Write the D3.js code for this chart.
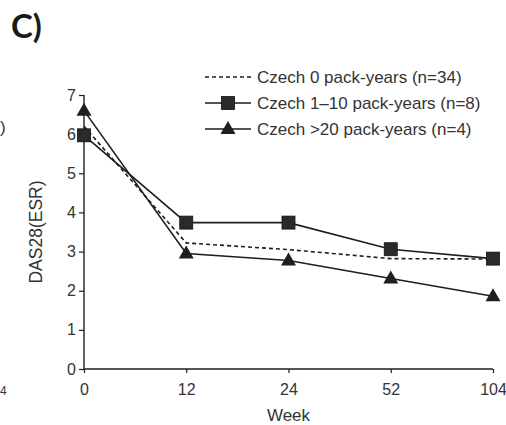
<!DOCTYPE html>
<html>
<head>
<meta charset="utf-8">
<script src="https://cdn.jsdelivr.net/npm/d3@7"></script>
<style>
  html, body { margin: 0; padding: 0; background: #fff; }
  svg { display: block; }
</style>
</head>
<body>
<div id="chart"></div>
<script>
// DAS28(ESR) over time by smoking exposure (Czech cohort)
const weeks = ['0', '12', '24', '52', '104'];
const yTicks = [0, 1, 2, 3, 4, 5, 6, 7];
const czech0 = [6.2, 3.22, 3.05, 2.82, 2.81];
const czech1to10 = [5.97, 3.74, 3.74, 3.06, 2.82];
const czechOver20 = [6.6, 2.95, 2.77, 2.31, 1.86];
const seriesNames = [
  'Czech 0 pack-years (n=34)',
  'Czech 1\u201310 pack-years (n=8)',
  'Czech >20 pack-years (n=4)',
];

const width = 506;
const height = 425;
const margin = { top: 95, right: 13, bottom: 56, left: 84 };
const innerW = width - margin.left - margin.right;
const innerH = height - margin.top - margin.bottom;
const ink = '#1e1e1e';
const textInk = '#333';
const font = '"Liberation Sans", Arial, sans-serif';

const series = [
  { name: seriesNames[0], values: czech0, dash: '4,3', marker: null },
  { name: seriesNames[1], values: czech1to10, dash: null, marker: 'square' },
  { name: seriesNames[2], values: czechOver20, dash: null, marker: 'triangle' },
];

const svg = d3.select('#chart').append('svg')
  .attr('width', width).attr('height', height)
  .style('font-family', font);

// panel label + leftover bits of the neighbouring panel
svg.append('text').attr('x', 11).attr('y', 38)
  .style('font-family', 'Lato, "Open Sans", sans-serif')
  .style('font-weight', 'bold').style('font-size', '33px').attr('fill', '#1a1a1a')
  .text('C)');
svg.append('text').attr('x', 0).attr('y', 133).style('font-size', '17px').attr('fill', textInk).text(')');
svg.append('text').attr('x', 0).attr('y', 395).style('font-size', '12px').attr('fill', textInk).text('4');

const x = d3.scalePoint().domain(weeks).range([0, innerW]);
const y = d3.scaleLinear().domain([0, 7]).range([innerH, 0]);

const g = svg.append('g').attr('transform', `translate(${margin.left},${margin.top})`);

const xAxis = g.append('g').attr('transform', `translate(0,${innerH})`)
  .call(d3.axisBottom(x).tickSize(4).tickPadding(11));
const yAxis = g.append('g')
  .call(d3.axisLeft(y).tickValues(yTicks).tickFormat(d3.format('d')).tickSize(5).tickPadding(3));

[xAxis, yAxis].forEach((a) => {
  a.select('.domain').attr('stroke', ink).attr('stroke-width', 1.4);
  a.selectAll('.tick line').attr('stroke', ink).attr('stroke-width', 1.2);
  a.selectAll('.tick text').attr('fill', textInk).style('font-size', '16px').style('font-family', font);
});
xAxis.select('.domain').attr('d', `M0,0H${innerW}`);
yAxis.select('.domain').attr('d', `M0,0V${innerH}`);

svg.append('text').attr('x', margin.left + innerW / 2).attr('y', 421)
  .attr('text-anchor', 'middle').style('font-size', '17px').attr('fill', textInk).text('Week');
svg.append('text').attr('transform', `translate(42,${margin.top + innerH / 2}) rotate(-90)`)
  .attr('text-anchor', 'middle').style('font-size', '17.5px').attr('fill', textInk).text('DAS28(ESR)');

const line = d3.line().x((d, i) => x(weeks[i])).y((d) => y(d));

function drawMarker(sel, type, cx, cy) {
  if (type === 'square') {
    sel.append('rect').attr('x', cx - 6.5).attr('y', cy - 6.5).attr('width', 13).attr('height', 13)
      .attr('fill', '#2a2a2a').attr('stroke', '#111').attr('stroke-width', 0.8);
  } else if (type === 'triangle') {
    sel.append('path').attr('d', `M${cx},${cy - 8}L${cx + 7.5},${cy + 5}L${cx - 7.5},${cy + 5}Z`)
      .attr('fill', '#1f1f1f');
  }
}

series.forEach((s) => {
  g.append('path').datum(s.values)
    .attr('d', line).attr('fill', 'none').attr('stroke', ink)
    .attr('stroke-width', 1.6).attr('stroke-dasharray', s.dash);
});
series.forEach((s) => {
  if (!s.marker) return;
  s.values.forEach((v, i) => drawMarker(g, s.marker, x(weeks[i]), y(v)));
});

// legend
const legend = svg.append('g').attr('transform', 'translate(205,77)');
series.forEach((s, i) => {
  const row = legend.append('g').attr('transform', `translate(0,${i * 26})`);
  row.append('line').attr('x1', 0).attr('x2', 46).attr('y1', 0).attr('y2', 0)
    .attr('stroke', ink).attr('stroke-width', 1.6).attr('stroke-dasharray', s.dash);
  if (s.marker) drawMarker(row, s.marker, 23, 0);
  row.append('text').attr('x', 52).attr('y', 0).attr('dy', '0.36em')
    .style('font-size', '17px').attr('fill', textInk).text(s.name);
});
</script>
</body>
</html>
